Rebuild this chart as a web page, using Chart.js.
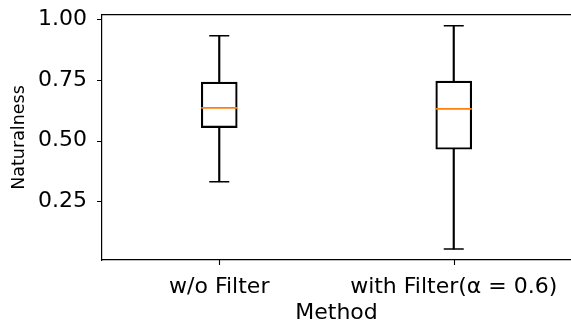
<!DOCTYPE html>
<html><head><meta charset="utf-8">
<script src="https://cdn.jsdelivr.net/npm/chart.js@4/dist/chart.umd.min.js"></script>
<style>html,body{margin:0;padding:0;background:#fff}#w{width:571px;height:327px}</style>
</head><body><div id="w"><canvas id="c"></canvas></div>
<script>
const categories = ['w/o Filter', 'with Filter(\u03B1 = 0.6)'];
const whiskerLow = [0.330, 0.052];
const q1 = [0.553, 0.464];
const median = [0.635, 0.631];
const q3 = [0.741, 0.745];
const whiskerHigh = [0.932, 0.974];
const yTicks = [0.25, 0.50, 0.75, 1.00];

const FONT = "'DejaVu Sans', sans-serif";
const boxData = categories.map((_, i) => [q1[i], q3[i]]);
const lowWhisker = categories.map((_, i) => [whiskerLow[i], q1[i]]);
const highWhisker = categories.map((_, i) => [q3[i], whiskerHigh[i]]);

function noPad(s) { s.paddingLeft = 0; s.paddingRight = 0; s.paddingTop = 0; s.paddingBottom = 0; }

const TICK_LEN = 5;
const tickMarks = {
  id: 'tickMarks',
  afterDraw(chart) {
    const { ctx, scales: { x, y } } = chart;
    ctx.save();
    ctx.strokeStyle = '#000';
    ctx.lineWidth = 1.1;
    ctx.beginPath();
    x.ticks.forEach((t, i) => {
      const px = Math.round(x.getPixelForTick(i)) + 0.5;
      ctx.moveTo(px, x.top);
      ctx.lineTo(px, x.top + TICK_LEN);
    });
    y.ticks.forEach((t, i) => {
      const py = Math.round(y.getPixelForTick(i)) + 0.5;
      ctx.moveTo(y.right - TICK_LEN, py);
      ctx.lineTo(y.right, py);
    });
    ctx.stroke();
    ctx.restore();
  }
};

new Chart(document.getElementById('c'), {
  type: 'bar',
  data: {
    labels: categories,
    datasets: [
      { type: 'line', data: median, showLine: false, pointStyle: 'line', pointRadius: 18,
        pointBorderWidth: 1.8, pointBorderColor: '#ff7f0e', borderColor: '#ff7f0e', order: 0 },
      { data: boxData, grouped: false, barThickness: 36, backgroundColor: 'rgba(0,0,0,0)',
        borderColor: '#000', borderWidth: 1.5, borderSkipped: false, order: 1 },
      { data: lowWhisker, grouped: false, barThickness: 1.5, backgroundColor: '#000', borderWidth: 0, order: 2 },
      { data: highWhisker, grouped: false, barThickness: 1.5, backgroundColor: '#000', borderWidth: 0, order: 2 },
      { type: 'line', data: whiskerLow, showLine: false, pointStyle: 'line', pointRadius: 10,
        pointBorderWidth: 1.5, pointBorderColor: '#000', borderColor: '#000', order: 2 },
      { type: 'line', data: whiskerHigh, showLine: false, pointStyle: 'line', pointRadius: 10,
        pointBorderWidth: 1.5, pointBorderColor: '#000', borderColor: '#000', order: 2 }
    ]
  },
  options: {
    responsive: true, maintainAspectRatio: false, animation: false, events: [],
    layout: { autoPadding: false, padding: { top: 15, right: 0, left: 0, bottom: 0 } },
    plugins: { legend: { display: false }, tooltip: { enabled: false } },
    scales: {
      x: {
        offset: true,
        grid: { display: false },
        border: { display: true, color: '#000', width: 1.2 },
        ticks: { color: '#000', font: { family: FONT, size: 22 }, padding: 6, maxRotation: 0, autoSkip: false },
        title: { display: true, text: 'Method', color: '#000', font: { family: FONT, size: 22 }, padding: { top: 0, bottom: 1 } },
        afterFit: s => { s.height = 67; noPad(s); }
      },
      xTop: {
        type: 'category', position: 'top', labels: categories, offset: true,
        grid: { display: false }, ticks: { display: false },
        border: { display: true, color: '#000', width: 1.2 },
        afterFit: s => { s.height = 0; noPad(s); }
      },
      y: {
        min: 0.007, max: 1.018,
        afterBuildTicks: s => { s.ticks = yTicks.map(v => ({ value: v })); },
        grid: { display: false },
        border: { display: true, color: '#000', width: 1.2 },
        ticks: { color: '#000', font: { family: FONT, size: 22 }, padding: 7, callback: v => Number(v).toFixed(2) },
        title: { display: true, text: 'Naturalness', color: '#000', font: { family: FONT, size: 17.5 }, padding: { top: 9, bottom: 0 } },
        afterFit: s => { s.width = 102; noPad(s); }
      }
    }
  },
  plugins: [tickMarks]
});
</script>
</body></html>
